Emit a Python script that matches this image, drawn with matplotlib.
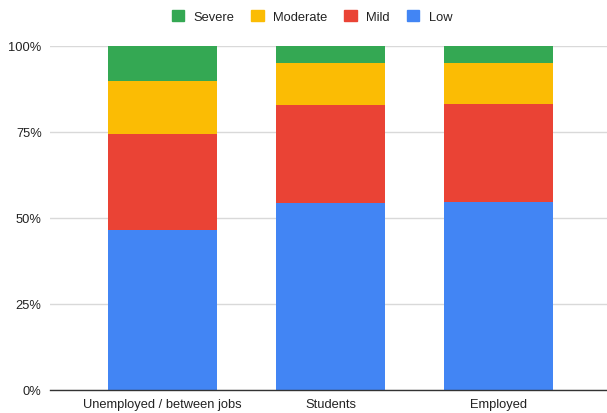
import numpy as np
import matplotlib
matplotlib.use('Agg')
import matplotlib.pyplot as plt
from matplotlib.patches import Patch

plt.rcParams['font.family'] = ['Liberation Sans', 'DejaVu Sans']

# Share of each severity level per group (%)
groups = ['Unemployed / between jobs', 'Students', 'Employed']
low = [46.3, 54.4, 54.7]
mild = [27.9, 28.3, 28.3]
moderate = [15.5, 12.2, 11.9]
severe = [10.3, 5.1, 5.1]

series = [('Low', low, '#4285F4'),
          ('Mild', mild, '#EA4335'),
          ('Moderate', moderate, '#FBBC04'),
          ('Severe', severe, '#34A853')]

fig = plt.figure(figsize=(6.07, 4.14), dpi=100)
ax = fig.add_axes([50/607, 0.0563, 1 - 50/607, 0.831])

x = np.arange(len(groups))
bottom = np.zeros(len(groups))
for name, vals, col in series:
    ax.bar(x, vals, width=0.65, bottom=bottom, color=col, zorder=3)
    bottom += np.array(vals)

ax.set_xlim(-0.67, 2.646)
ax.set_ylim(0, 100)
ax.set_yticks([0, 25, 50, 75, 100])
ax.set_yticklabels(['0%', '25%', '50%', '75%', '100%'])
ax.set_xticks(x)
ax.set_xticklabels(groups)

ax.grid(axis='y', color='#d9d9d9', linewidth=1, zorder=0)
for s in ['top', 'right', 'left']:
    ax.spines[s].set_visible(False)
ax.spines['bottom'].set_color('#333333')
ax.spines['bottom'].set_linewidth(1)
ax.spines['bottom'].set_zorder(4)
ax.tick_params(axis='both', length=0, labelsize=9.3, labelcolor='#222222')
ax.tick_params(axis='y', pad=6)
ax.tick_params(axis='x', pad=6)

# legend across the top, Severe first
handles = [Patch(color=c, label=n) for n, _, c in series[::-1]]
fig.legend(handles=handles, loc='center', bbox_to_anchor=(0.514, 0.957),
           ncol=4, frameon=False, fontsize=9.3, handlelength=0.95, handleheight=0.95,
           handletextpad=0.75, columnspacing=1.3, labelcolor='#222222')

fig.savefig('out.png', dpi=100)
